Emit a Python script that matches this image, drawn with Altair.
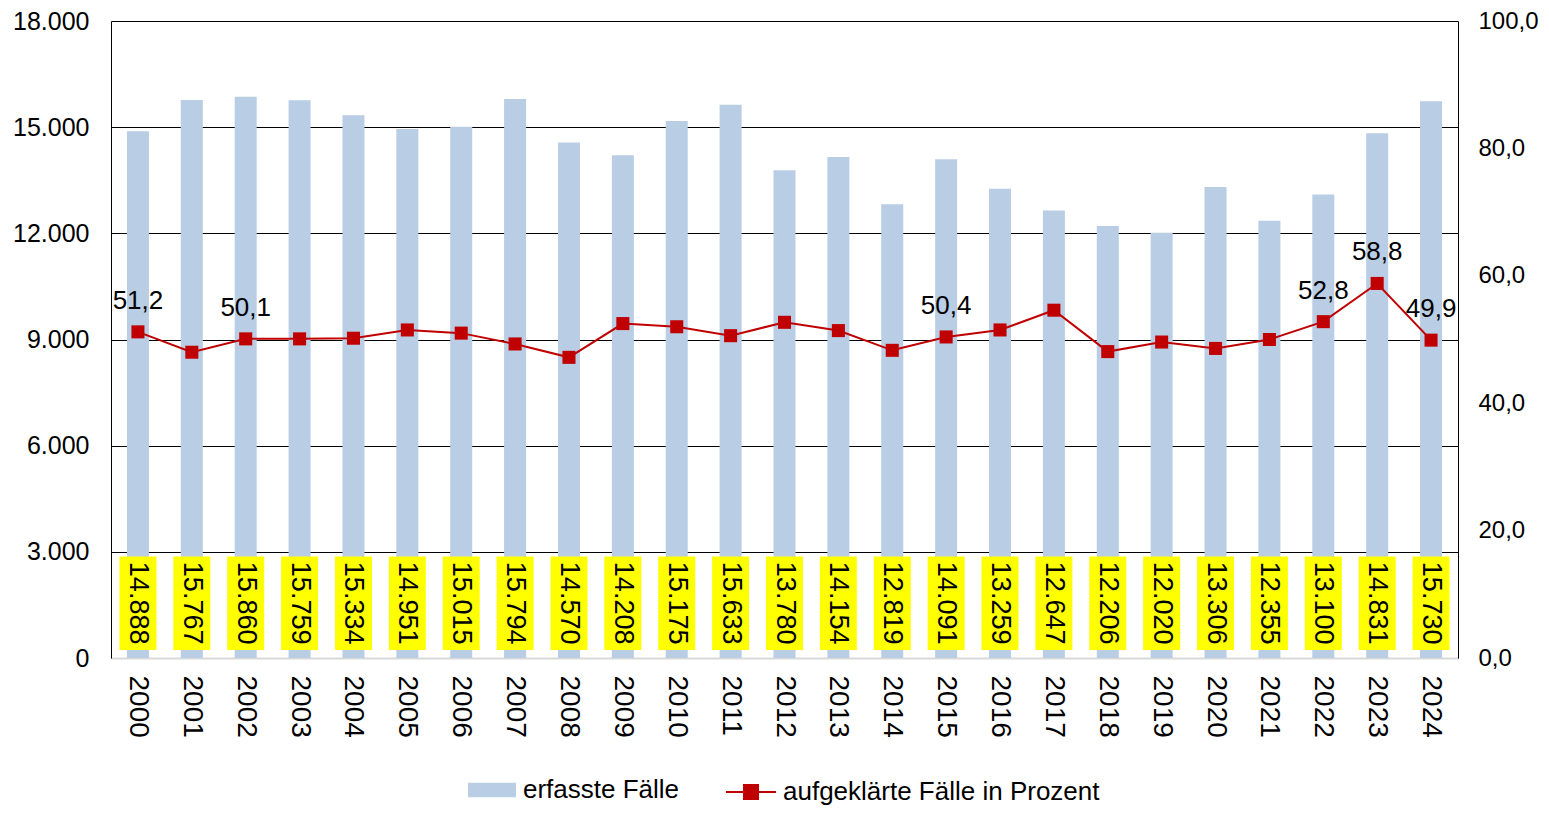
import altair as alt
import pandas as pd

years = [str(y) for y in range(2000, 2025)]
cases = [14888, 15767, 15860, 15759, 15334, 14951, 15015, 15794, 14570, 14208,
         15175, 15633, 13780, 14154, 12819, 14091, 13259, 12647, 12206, 12020,
         13306, 12355, 13100, 14831, 15730]
pct = [51.2, 48.0, 50.1, 50.1, 50.2, 51.5, 51.0, 49.3, 47.2, 52.5,
       52.0, 50.6, 52.7, 51.4, 48.3, 50.4, 51.5, 54.6, 48.1, 49.6,
       48.6, 50.0, 52.8, 58.8, 49.9]
labeled_years = ["2000", "2002", "2015", "2022", "2023", "2024"]
left_ticks = [0, 3000, 6000, 9000, 12000, 15000, 18000]
right_ticks = [0, 20, 40, 60, 80, 100]
bar_series = "erfasste Fälle"
line_series = "aufgeklärte Fälle in Prozent"

df = pd.DataFrame({
    "year": years,
    "cases": cases,
    "pct": pct,
    "case_label": [f"{v:,}".replace(",", ".") for v in cases],
    "pct_label": [f"{p:.1f}".replace(".", ",") if y in labeled_years else "" for y, p in zip(years, pct)],
    "s1": bar_series,
    "s2": line_series,
})

FONT = "Liberation Sans"
BLUE = "#B9CDE5"
RED = "#C00000"

x_enc = alt.X("year:N", scale=alt.Scale(paddingInner=0.59, paddingOuter=0.295),
              axis=alt.Axis(title=None, labelAngle=90, labelFontSize=28, labelPadding=17,
                            ticks=False, domainColor="#d9d9d9", domainWidth=2, grid=False,
                            labelColor="black", labelFont=FONT))

left_scale = alt.Scale(domain=[0, 18000])
left_axis = alt.Axis(title=None, values=left_ticks, grid=True, gridColor="#000000", gridWidth=1,
                     ticks=False, domainColor="#000000", labelFontSize=25, labelPadding=22,
                     labelColor="black", labelFont=FONT,
                     labelExpr="replace(format(datum.value, ','), ',', '.')")

bars = alt.Chart(df).mark_bar(size=22).encode(
    x=x_enc,
    y=alt.Y("cases:Q", scale=left_scale, axis=left_axis),
    fill=alt.Fill("s1:N", scale=alt.Scale(domain=[bar_series], range=[BLUE]),
                  legend=alt.Legend(title=None, orient="none", legendX=357, legendY=745,
                                    symbolType="M-1,-0.3H1V0.3H-1Z", symbolSize=2304,
                                    symbolStrokeWidth=0, labelFontSize=26, labelFont=FONT,
                                    labelColor="black", labelOffset=7, labelLimit=0)),
)

boxes = alt.Chart(df).mark_bar(size=37, color="#FFFF00").encode(
    x="year:N",
    y=alt.Y("b0:Q", scale=left_scale, axis=left_axis),
    y2="b1:Q",
).transform_calculate(b0="225", b1="2870")

box_text = alt.Chart(df).mark_text(angle=90, fontSize=27, font=FONT, color="black",
                                   align="center", baseline="middle").encode(
    x="year:N",
    y=alt.Y("mid:Q", scale=left_scale, axis=left_axis),
    text="case_label:N",
).transform_calculate(mid="1550")

right_scale = alt.Scale(domain=[0, 100])
right_axis = alt.Axis(title=None, orient="right", values=right_ticks, grid=False, ticks=False,
                      domainColor="#000000", labelFontSize=24, labelPadding=20,
                      labelColor="black", labelFont=FONT,
                      labelExpr="replace(format(datum.value, '.1f'), '.', ',')")

line = alt.Chart(df).mark_line(strokeWidth=2).encode(
    x="year:N",
    y=alt.Y("pct:Q", scale=right_scale, axis=right_axis),
    stroke=alt.Stroke("s2:N", scale=alt.Scale(domain=[line_series], range=[RED]),
                      legend=alt.Legend(title=None, orient="none", legendX=614, legendY=745,
                                        symbolType="M-1,0H1M-0.28,-0.28H0.28V0.28H-0.28Z",
                                        symbolSize=2500, symbolStrokeWidth=2,
                                        symbolFillColor=RED, labelFontSize=26, labelFont=FONT,
                                        labelColor="black", labelOffset=6, labelLimit=0)),
)

points = alt.Chart(df).mark_point(shape="square", filled=True, size=170, color=RED, opacity=1).encode(
    x="year:N",
    y=alt.Y("pct:Q", scale=right_scale, axis=right_axis),
)

pct_text = alt.Chart(df).mark_text(fontSize=26, font=FONT, color="black", dy=-31,
                                   baseline="middle").encode(
    x="year:N",
    y=alt.Y("pct:Q", scale=right_scale, axis=right_axis),
    text="pct_label:N",
)

chart = alt.layer(
    alt.layer(bars, boxes, box_text),
    alt.layer(line, points, pct_text),
).resolve_scale(y="independent", fill="independent", stroke="independent").properties(
    width=1347, height=637,
    autosize=alt.AutoSizeParams(type="none"),
    padding={"left": 103, "top": 13, "right": 83, "bottom": 160},
).configure_view(strokeOpacity=0).configure(background="white")

chart.save("out.html", embed_options={"renderer": "svg", "actions": False})
